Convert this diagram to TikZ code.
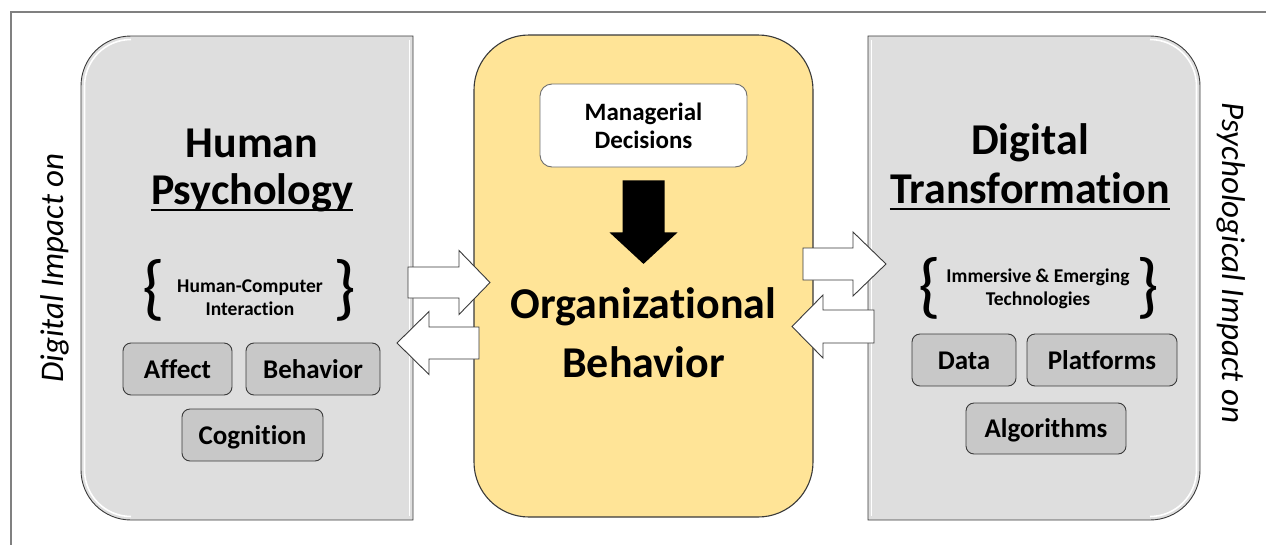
\documentclass[tikz,border=0pt]{standalone}
\usepackage{fontspec}
\setmainfont{Carlito}[RawFeature={-liga;-clig;-calt;-dlig}]
\usetikzlibrary{calc}

\definecolor{panelgray}{HTML}{DEDEDE}
\definecolor{boxgray}{HTML}{C8C8C8}
\definecolor{edgedark}{HTML}{3A3A3A}
\definecolor{framegray}{HTML}{808080}
\definecolor{orgyellow}{HTML}{FFE497}
\definecolor{mgrline}{HTML}{6E6E6E}

\tikzset{
  panel/.style={fill=panelgray, draw=edgedark, line width=0.9pt},
  bevel/.style={draw=white, line width=1.6pt},
  facet/.style={draw=edgedark, fill=boxgray, rounded corners=8pt, line width=0.9pt,
    minimum height=52pt, inner sep=0pt, text height=20pt, text depth=2pt,
    font=\fontsize{27}{32}\selectfont\bfseries},
  heading/.style={font=\fontsize{44}{52}\selectfont\bfseries, inner sep=0pt, anchor=base},
  subline/.style={font=\fontsize{19.5}{23}\selectfont\bfseries, inner sep=0pt, anchor=base},
  curly/.style={font=\fontsize{72}{80}\selectfont, inner sep=0pt},
  sidelabel/.style={font=\fontsize{33}{40}\selectfont\itshape, inner sep=0pt, anchor=base},
  blockarrow/.style={fill=white, draw=edgedark, line width=0.9pt, line join=miter},
}

% horizontal block arrow: tail x, tip x, mid y, shaft half-width, head half-width, head base x
\newcommand{\hblockarrow}[6]{%
  \draw[blockarrow] (#1,#3-#4) -- (#6,#3-#4) -- (#6,#3-#5) -- (#2,#3)
    -- (#6,#3+#5) -- (#6,#3+#4) -- (#1,#3+#4) -- cycle;}

\begin{document}
\begin{tikzpicture}[x=1pt,y=-1pt]
\useasboundingbox (0,0) rectangle (1266,544);
\clip (0,0) rectangle (1266,544);

% outer frame
\draw[framegray, line width=1.5pt] (11,550) -- (11,12) -- (1275,12);

% left panel: Human Psychology
\draw[panel] (413,36) -- (131,36) arc(270:180:50) -- (81,470) arc(180:90:50) -- (413,520) -- cycle;
\draw[bevel] (131,39.5) arc(270:180:46.5) -- (84.5,470) arc(180:90:46.5);
\draw[bevel] (409.5,40) -- (409.5,516);

% right panel: Digital Transformation
\draw[panel] (868,36) -- (1150,36) arc(270:360:50) -- (1200,470) arc(0:90:50) -- (868,520) -- cycle;
\draw[bevel] (1150,39.5) arc(270:360:46.5) -- (1196.5,470) arc(0:90:46.5);
\draw[bevel] (871.5,40) -- (871.5,516);

% centre panel: Organizational Behavior
\draw[fill=orgyellow, draw=edgedark, line width=1.1pt, rounded corners=55pt] (474,35) rectangle (813,517);

% side labels
\node[sidelabel, rotate=90] (dil) at (63,268) {Digital Impact on};
\node[sidelabel, rotate=-90] (pil) at (1222,263) {Psychological Impact on};

% Human Psychology contents
\node[heading] (hp1) at (252,157) {Human};
\node[heading] (hp2) at (252,204) {Psychology};
\draw[line width=2pt] ([yshift=-6pt]hp2.base west) -- ([yshift=-6pt]hp2.base east);
\node[subline] (hci1) at (250,292) {Human-Computer};
\node[subline] (hci2) at (250,315) {Interaction};
\node[curly] (hcil) at (154,290) {\{};
\node[curly] (hcir) at (345,290) {\}};
\node[facet, minimum width=109pt] (affect) at (177.5,369) {Affect};
\node[facet, minimum width=134pt] (behav) at (313,369) {Behavior};
\node[facet, minimum width=141pt] (cogn) at (252.5,435) {Cognition};

% Digital Transformation contents
\node[heading] (dt1) at (1030,154) {Digital};
\node[heading] (dt2) at (1030,203) {Transformation};
\draw[line width=2pt] ([yshift=-6pt]dt2.base west) -- ([yshift=-6pt]dt2.base east);
\node[subline] (iet1) at (1038,282) {Immersive \& Emerging};
\node[subline] (iet2) at (1038,305) {Technologies};
\node[curly] (ietl) at (930,288) {\{};
\node[curly] (ietr) at (1148,288) {\}};
\node[facet, minimum width=104pt] (data) at (964,360) {Data};
\node[facet, minimum width=150pt] (platf) at (1102,360) {Platforms};
\node[facet, minimum width=160pt, minimum height=51pt] (algo) at (1046,428.5) {Algorithms};

% Organizational Behavior contents
\node[draw=mgrline, fill=white, line width=0.9pt, rounded corners=12pt,
      minimum width=207pt, minimum height=83pt, align=center,
      font=\fontsize{25}{28}\selectfont\bfseries] (mgr) at (643.5,125.5) {Managerial\\Decisions};
\node[heading] (ob1) at (643.5,318) {Organizational};
\node[heading] (ob2) at (643.5,377) {Behavior};

% decisions feed into organizational behavior
\path (mgr.south) ++(0,13) coordinate (dectail);
\coordinate (dectip) at ([yshift=23pt]ob1.north);
\fill[black] ($(dectail)+(-21,0)$) -- ($(dectail)+(21,0)$) -- ($(dectail)+(21,52)$)
  -- ($(dectail)+(34,52)$) -- (dectip) -- ($(dectail)+(-34,52)$) -- ($(dectail)+(-21,52)$) -- cycle;

% exchange arrows between the panels
\hblockarrow{408}{490}{282.5}{15.5}{32}{459}
\hblockarrow{479}{397}{343}{16}{31.5}{429}
\hblockarrow{803}{886}{264}{16}{32}{853}
\hblockarrow{874}{792}{326.5}{16.5}{31.5}{823}
\end{tikzpicture}
\end{document}
